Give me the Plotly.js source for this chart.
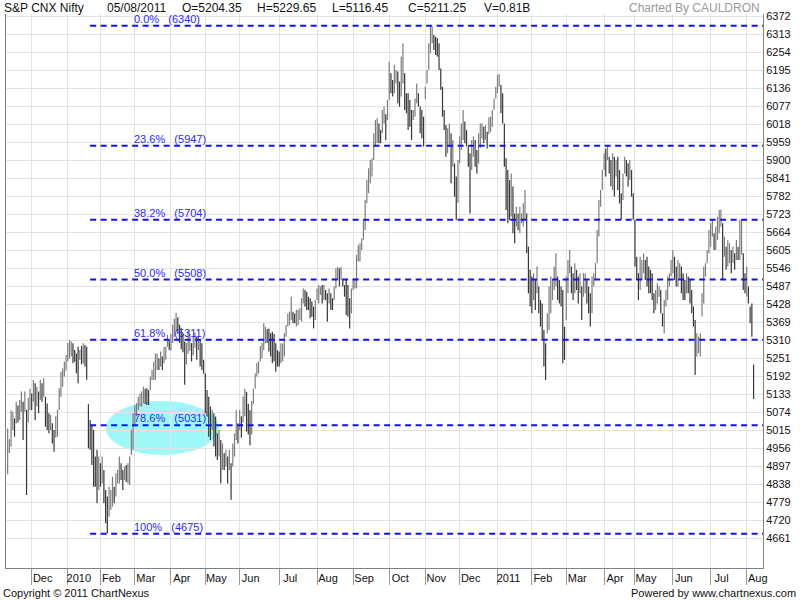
<!DOCTYPE html>
<html><head><meta charset="utf-8">
<script src="https://cdn.plot.ly/plotly-3.0.1.min.js"></script>
<style>html,body{margin:0;padding:0;background:#fff}#chart{width:800px;height:600px}</style>
</head><body><div id="chart"></div>
<script>
// ---- data ----
const monthLabels = ['Dec','2010','Feb','Mar','Apr','May','Jun','Jul','Aug','Sep','Oct','Nov','Dec','2011','Feb','Mar','Apr','May','Jun','Jul','Aug'];
const monthStart  = [14,35,54,74,95,115,135,158,180,201,222,243,263,285,305,325,347,365,387,409,430];
const yTicks = [6372,6313,6254,6195,6136,6077,6018,5959,5900,5841,5782,5723,5664,5605,5546,5487,5428,5369,5310,5251,5192,5133,5074,5015,4956,4897,4838,4779,4720,4661];
const fibPct = ['0.0%','23.6%','38.2%','50.0%','61.8%','78.6%','100%'];
const fibVal = [6340,5947,5704,5508,5311,5031,4675];
const fibStart = 48;
const headerItems = ['S&P CNX Nifty','05/08/2011','O=5204.35','H=5229.65','L=5116.45','C=5211.25','V=0.81B'];

const high = [
// Nov 2009
5020,4985,5080,5075,5053,5108,5095,5113,5141,5108,5141,5081,5120,5150,
// Dec 2009
5135,5179,5168,5157,5141,5179,5168,5185,5124,5102,5070,5064,5037,5015,5060,5081,5152,5206,5217,5239,5261,
// Jan 2010
5300,5310,5305,5299,5277,5266,5288,5277,5290,5299,5294,5288,5100,5048,5030,5015,4928,4950,4928,4906,
// Feb 2010
4928,4884,4818,4797,4829,4818,4862,4829,4873,4884,4928,4906,4884,4895,4900,4906,4928,5015,5070,
// Mar 2010
5097,5103,5124,5135,5141,5157,5150,5152,5146,5190,5212,5239,5266,5266,5250,5272,5256,5288,5288,5327,5310,
// Apr 2010
5330,5360,5380,5399,5385,5360,5350,5330,5305,5300,5340,5330,5300,5320,5335,5320,5320,5310,5299,5245,
// May 2010
5201,5146,5124,5092,5081,5070,5059,5004,5015,4982,4971,4939,4950,4928,4950,4906,4971,5004,5081,5037,5081,
// Jun 2010
5060,5125,5150,5140,5100,5080,5110,5150,5200,5235,5240,5290,5300,5365,5354,5345,5348,5332,5337,5330,5299,5277,
// Jul 2010
5272,5299,5299,5332,5359,5397,5403,5452,5403,5397,5408,5408,5414,5447,5479,5474,5468,5452,5447,5436,5419,5441,
// Aug 2010
5479,5490,5485,5490,5490,5474,5463,5479,5463,5447,5485,5545,5550,5545,5550,5507,5490,5507,5490,5447,5479,
// Sep 2010
5512,5512,5589,5621,5627,5643,5703,5769,5835,5873,5900,5906,5988,6031,6037,6020,5998,6064,6075,6050,6097,
// Oct 2010
6222,6184,6162,6212,6195,6190,6157,6239,6283,6184,6119,6119,6097,6064,6064,6102,6151,6119,6075,6064,6042,
// Nov 2010
6140,6195,6283,6339,6337,6310,6304,6299,6283,6200,6140,6064,6015,6004,6020,5988,5966,5889,5846,5900,
// Dec 2010
5977,6020,6064,6026,5998,5944,5922,5966,5977,5966,5933,5988,6020,6020,6009,6014,5993,6040,6042,6064,6102,6140,
// Jan 2011
6179,6182,6146,6119,6020,5906,5867,5834,5856,5813,5725,5747,5725,5747,5725,5758,5802,5725,5616,5540,
// Feb 2011
5518,5529,5508,5551,5485,5441,5430,5343,5299,5398,5485,5518,5507,5551,5594,5518,5507,5485,5474,5354,
// Mar 2011
5518,5572,5605,5551,5529,5562,5540,5518,5529,5485,5529,5529,5507,5485,5463,5518,5529,5562,5671,5769,5802,5867,
// Apr 2011
5922,5938,5944,5911,5900,5922,5911,5900,5911,5867,5791,5856,5911,5900,5889,5900,5867,5791,
// May 2011
5704,5583,5529,5583,5572,5594,5572,5583,5551,5540,5529,5463,5474,5496,5485,5474,5398,5441,5474,5518,5529,5572,
// Jun 2011
5605,5583,5551,5572,5562,5551,5529,5507,5529,5518,5507,5474,5420,5376,5332,5321,5332,5463,5551,5562,5605,5671,
// Jul 2011
5693,5704,5660,5682,5714,5736,5738,5693,5649,5616,5638,5627,5605,5616,5594,5638,5616,5704,5704,5594,5529,
// Aug 2011
5551,5485,5420,5430,5229.65
];
const low = [
// Nov 2009
4870,4940,4960,5015,4993,5037,5040,5048,5075,4982,5075,4802,5040,5080,
// Dec 2009
5081,5108,5048,5092,5070,5113,5108,5124,5026,5015,5004,5015,4971,4944,4990,4993,5081,5124,5157,5190,5210,
// Jan 2010
5240,5250,5256,5234,5239,5201,5168,5245,5230,5234,5223,5180,4955,4950,4900,4829,4829,4775,4818,4829,
// Feb 2010
4840,4775,4709,4676,4731,4753,4764,4775,4797,4840,4840,4851,4818,4851,4845,4840,4835,4933,4950,
// Mar 2010
5026,5060,5081,5092,5092,5103,5100,5097,5097,5146,5179,5179,5179,5212,5212,5223,5212,5234,5245,5288,5277,
// Apr 2010
5275,5300,5320,5340,5330,5300,5280,5270,5163,5230,5265,5275,5240,5260,5285,5245,5277,5223,5212,5200,
// May 2010
5070,5059,4993,4982,5015,4961,4928,4917,4928,4840,4884,4884,4895,4840,4884,4786,4895,4928,4982,4971,5015,
// Jun 2010
4990,5040,5060,5010,5000,4965,5000,5100,5150,5190,5200,5240,5250,5277,5299,5300,5272,5256,5234,5240,5206,5223,
// Jul 2010
5223,5234,5240,5256,5321,5354,5359,5376,5365,5365,5354,5359,5376,5370,5430,5419,5408,5408,5381,5386,5348,5376,
// Aug 2010
5441,5430,5458,5430,5441,5441,5370,5430,5408,5408,5441,5479,5507,5485,5507,5485,5452,5392,5386,5348,5397,
// Sep 2010
5474,5479,5479,5567,5567,5605,5638,5671,5758,5791,5824,5846,5900,5944,5955,5955,5955,5988,6020,5965,6031,
// Oct 2010
6097,6119,6108,6119,6151,6086,6075,6108,6151,6064,6053,5998,6009,5966,6031,6042,6086,6075,5988,5971,5944,
// Nov 2010
6100,6151,6195,6250,6283,6261,6244,6239,6195,6130,6042,5998,5911,5922,5944,5824,5878,5780,5703,5760,
// Dec 2010
5889,5933,5966,5955,5944,5878,5725,5867,5911,5878,5856,5889,5940,5970,5955,5966,5938,5985,5993,6009,6064,6102,
// Jan 2011
6119,6141,6053,6020,5878,5736,5693,5704,5715,5660,5627,5682,5670,5660,5693,5682,5704,5594,5463,5420,
// Feb 2011
5398,5441,5408,5463,5398,5354,5310,5223,5179,5332,5343,5398,5441,5474,5485,5441,5430,5420,5234,5245,
// Mar 2011
5376,5463,5529,5463,5441,5463,5474,5430,5463,5376,5452,5463,5430,5398,5354,5398,5485,5507,5562,5649,5747,5802,
// Apr 2011
5867,5846,5900,5856,5813,5802,5780,5846,5802,5758,5704,5769,5856,5846,5813,5835,5780,5704,
// May 2011
5551,5507,5441,5474,5507,5529,5507,5485,5463,5463,5441,5398,5408,5430,5452,5398,5354,5332,5420,5441,5485,5518,
// Jun 2011
5529,5507,5485,5485,5507,5463,5441,5441,5463,5463,5430,5398,5354,5195,5256,5267,5256,5387,5430,5518,5562,5594,
// Jul 2011
5616,5649,5605,5605,5638,5660,5682,5507,5583,5540,5551,5562,5529,5562,5540,5572,5572,5572,5590,5474,5463,
// Aug 2011
5453,5430,5365,5321,5116.45
];

// ---- geometry (pixels of the 800x600 picture) ----
const PL = 6, PR = 763, PT = 14, PB = 568;
const xRange = [-0.954, 439.48];
const yRange = [4562.7, 6378.6];
const px = x => (x - PL) / (PR - PL);
const py = y => (PB - y) / (PB - PT);

// ---- bars: high-low segments, colour by direction of the bar's mid ----
const upX = [], upY = [], dnX = [], dnY = [];
for (let i = 0; i < high.length; i++) {
  const mid = (high[i] + low[i]) / 2;
  const prev = i > 0 ? (high[i-1] + low[i-1]) / 2 : mid;
  const isUp = mid >= prev;
  (isUp ? upX : dnX).push(i, i, null);
  (isUp ? upY : dnY).push(low[i], high[i], null);
}
const traces = [
  {type:'scatter', mode:'lines', x:upX, y:upY, line:{color:'#7c7c7c', width:1.2}, hoverinfo:'skip', showlegend:false, connectgaps:false},
  {type:'scatter', mode:'lines', x:dnX, y:dnY, line:{color:'#363636', width:1.2}, hoverinfo:'skip', showlegend:false, connectgaps:false}
];

const font = 'Liberation Sans, Arial, sans-serif';
const shapes = [];
const annotations = [];

shapes.push({type:'circle', xref:'paper', yref:'paper', x0:px(106), x1:px(219), y0:py(455), y1:py(401),
  fillcolor:'#9ef8f8', line:{width:0}, layer:'between'});

fibVal.forEach((v, k) => {
  shapes.push({type:'line', xref:'x', yref:'y', x0:fibStart, x1:xRange[1], y0:v, y1:v,
    line:{color:'#1010ff', width:2, dash:'6px,4.5px'}, layer:'above'});
  annotations.push({xref:'paper', yref:'y', x:px(133), y:v, xanchor:'left', yanchor:'bottom', yshift:0,
    text: fibPct[k] + '\u00a0\u00a0\u00a0(' + v + ')', showarrow:false, borderpad:0,
    font:{family:font, size:11, color:'#2a2aff'}});
});

const headerX = [3, 106, 181, 256, 331, 407, 483];
headerItems.forEach((t, k) => {
  annotations.push({xref:'paper', yref:'paper', x:px(headerX[k]), y:py(7.5), xanchor:'left', yanchor:'middle',
    text:t, showarrow:false, borderpad:0, font:{family:font, size:12, color:'#111'}});
});
annotations.push({xref:'paper', yref:'paper', x:px(761), y:py(7.5), xanchor:'right', yanchor:'middle',
  text:'Charted By CAULDRON', showarrow:false, borderpad:0, font:{family:font, size:12, color:'#9a9a9a'}});
annotations.push({xref:'paper', yref:'paper', x:px(1), y:py(593), xanchor:'left', yanchor:'middle',
  text:'Copyright \u00a9 2011 ChartNexus', showarrow:false, font:{family:font, size:11, color:'#111'}});
annotations.push({xref:'paper', yref:'paper', x:px(798), y:py(593), xanchor:'right', yanchor:'middle',
  text:'Powered by www.chartnexus.com', showarrow:false, font:{family:font, size:11, color:'#111'}});

const layout = {
  width:800, height:600,
  margin:{l:PL, r:800-PR, t:PT, b:600-PB, pad:0},
  paper_bgcolor:'#ffffff', plot_bgcolor:'#ffffff',
  showlegend:false,
  xaxis:{range:xRange, tickmode:'array', tickvals:monthStart, ticktext:monthLabels,
    showgrid:true, gridcolor:'#e3e3e3', gridwidth:1, zeroline:false,
    showline:true, linecolor:'#7a8484', linewidth:1,
    ticks:'outside', ticklen:16, tickcolor:'#9a9a9a', tickwidth:1,
    ticklabelstandoff:-16, ticklabelshift:11,
    tickfont:{family:font, size:11, color:'#111'}, fixedrange:true},
  yaxis:{range:yRange, side:'right', tickmode:'array', tickvals:yTicks, ticktext:yTicks.map(String),
    showgrid:true, gridcolor:'#e3e3e3', gridwidth:1, zeroline:false,
    showline:true, mirror:true, linecolor:'#7a8484', linewidth:1, ticks:'',
    tickfont:{family:font, size:11, color:'#111'}, fixedrange:true},
  shapes:shapes, annotations:annotations
};

Plotly.newPlot('chart', traces, layout, {displayModeBar:false, staticPlot:true});
</script></body></html>
